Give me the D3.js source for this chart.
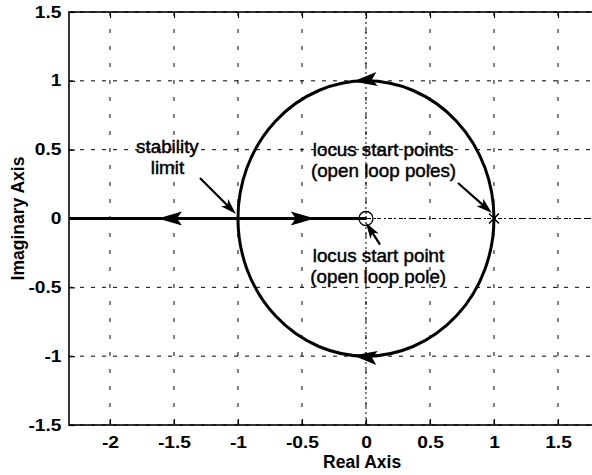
<!DOCTYPE html>
<html><head><meta charset="utf-8">
<script src="https://cdn.jsdelivr.net/npm/d3@7"></script>
<style>
html,body{margin:0;padding:0;background:#fff;overflow:hidden}
svg{display:block}
</style>
</head><body>
<script>
// ---- data ----
const xDomain = [-2.32, 1.88];
const yDomain = [-1.5, 1.5];
const xTicks = [-2, -1.5, -1, -0.5, 0, 0.5, 1, 1.5];
const xTickLabels = ["-2", "-1.5", "-1", "-0.5", "0", "0.5", "1", "1.5"];
const yTicks = [-1.5, -1, -0.5, 0, 0.5, 1, 1.5];
const yTickLabels = ["-1.5", "-1", "-0.5", "0", "0.5", "1", "1.5"];
const xLabel = "Real Axis";
const yLabel = "Imaginary Axis";

// real-axis branch of the locus
const realBranch = [[-2.32, 0], [0, 0]];
// circular branch: centre and radius
const circleCentre = [0, 0];
const circleRadius = 1;
// open loop poles
const polesO = [[0, 0]];
const polesX = [[1, 0]];
// direction arrows on the locus (point, branch)
const realArrows = [{p: [-1.625, 0], dir: -1}, {p: [-0.4, 0], dir: 1}];
const circleArrows = [{p: [-0.1, 0.995], branch: "upper"}, {p: [-0.1, -0.995], branch: "lower"}];
// annotations
const annotationTexts = [
  {text: "stability", p: [-1.551, 0.478]},
  {text: "limit", p: [-1.551, 0.321]},
  {text: "locus start points", p: [0.135, 0.456]},
  {text: "(open loop poles)", p: [0.137, 0.304]},
  {text: "locus start point", p: [0.098, -0.314]},
  {text: "(open loop pole)", p: [0.096, -0.468]}
];
const annotationArrows = [
  {from: [-1.297, 0.294], to: [-1.016, 0.033]},
  {from: [0.719, 0.258], to: [0.984, 0.040]},
  {from: [0.11, -0.19], to: [0.0, -0.03]}
];

// ---- drawing ----
const W = 592, H = 475;
const svg = d3.select("body").append("svg").attr("width", W).attr("height", H);
const x = d3.scaleLinear().domain(xDomain).range([69, 606.6]);
const y = d3.scaleLinear().domain(yDomain).range([425, 12]);
const font = "'Liberation Sans', Arial, Helvetica, sans-serif";

// grid
const grid = svg.append("g");
grid.selectAll("line.v").data(xTicks).enter().append("line")
  .attr("x1", d => x(d)).attr("x2", d => x(d))
  .attr("y1", y(yDomain[1])).attr("y2", y(yDomain[0]))
  .attr("stroke", "#000").attr("stroke-width", 1).attr("stroke-dasharray", "4,13");
grid.selectAll("line.h").data(yTicks).enter().append("line")
  .attr("y1", d => y(d)).attr("y2", d => y(d))
  .attr("x1", x(xDomain[0])).attr("x2", x(xDomain[1]))
  .attr("stroke", "#000").attr("stroke-width", 1).attr("stroke-dasharray", "4,7");
// dotted zero lines
grid.append("line").attr("x1", x(0)).attr("x2", x(0)).attr("y1", y(yDomain[1])).attr("y2", y(yDomain[0]))
  .attr("stroke", "#000").attr("stroke-width", 1).attr("stroke-dasharray", "2,3");
grid.append("line").attr("x1", x(xDomain[0])).attr("x2", x(xDomain[1])).attr("y1", y(0)).attr("y2", y(0))
  .attr("stroke", "#000").attr("stroke-width", 1).attr("stroke-dasharray", "2,3");

// axes
const sx = 1.2;
const xAxis = d3.axisBottom(x).tickValues(xTicks).tickFormat((d, i) => xTickLabels[i])
  .tickSizeInner(-6).tickSizeOuter(0).tickPadding(12);
const gx = svg.append("g").attr("transform", `translate(0,${y(yDomain[0])})`).call(xAxis);
const gxt = svg.append("g").attr("transform", `translate(0,${y(yDomain[1])})`)
  .call(d3.axisTop(x).tickValues(xTicks).tickFormat("").tickSizeInner(-6).tickSizeOuter(0));
const yAxis = d3.axisLeft(y).tickValues(yTicks).tickFormat((d, i) => yTickLabels[i])
  .tickSizeInner(-6).tickSizeOuter(0).tickPadding(7.5 / sx);
const gy = svg.append("g").attr("transform", `translate(${x(xDomain[0])},0)`).call(yAxis);
[gx, gxt, gy].forEach(g => {
  g.select(".domain").remove();
  g.selectAll(".tick line").attr("stroke", "#000").attr("stroke-width", 1.2);
  g.selectAll("text").attr("font-family", font).attr("font-weight", "bold")
    .attr("font-size", "16px").attr("fill", "#000").attr("transform", `scale(${sx},1)`);
});
// frame
svg.append("rect").attr("x", x(xDomain[0])).attr("y", y(yDomain[1]))
  .attr("width", x(xDomain[1]) - x(xDomain[0])).attr("height", y(yDomain[0]) - y(yDomain[1]))
  .attr("fill", "none").attr("stroke", "#000").attr("stroke-width", 1.6);

// axis labels
svg.append("text").attr("x", x(-0.03)).attr("y", 468).attr("text-anchor", "middle")
  .attr("font-family", font).attr("font-weight", "bold").attr("font-size", "17.5px").text(xLabel);
svg.append("text").attr("transform", `translate(24,${y(0)}) rotate(-90)`).attr("text-anchor", "middle")
  .attr("font-family", font).attr("font-weight", "bold").attr("font-size", "17.5px").text(yLabel);

// locus
const locus = svg.append("g");
locus.append("path").datum(realBranch)
  .attr("d", d3.line().x(d => x(d[0])).y(d => y(d[1])))
  .attr("fill", "none").attr("stroke", "#000").attr("stroke-width", 3);
locus.append("ellipse")
  .attr("cx", x(circleCentre[0])).attr("cy", y(circleCentre[1]))
  .attr("rx", x(circleCentre[0] + circleRadius) - x(circleCentre[0]))
  .attr("ry", y(circleCentre[1]) - y(circleCentre[1] + circleRadius))
  .attr("fill", "none").attr("stroke", "#000").attr("stroke-width", 3);

function arrowHead(tx, ty, ang, L, w, n) {
  const c = Math.cos(ang), s = Math.sin(ang);
  const bx = tx - L * c, by = ty - L * s;
  const nx = tx - (L - n) * c, ny = ty - (L - n) * s;
  return `M${tx},${ty}L${bx - w * s},${by + w * c}L${nx},${ny}L${bx + w * s},${by - w * c}Z`;
}
realArrows.forEach(a => {
  locus.append("path").attr("d", arrowHead(x(a.p[0]), y(a.p[1]), a.dir > 0 ? 0 : Math.PI, 24, 7, 5))
    .attr("fill", "#000");
});
circleArrows.forEach(a => {
  const dx = a.p[0] - circleCentre[0], dy = a.p[1] - circleCentre[1];
  const t = a.branch === "upper" ? [-dy, dx] : [dy, -dx];
  const pdx = t[0] * (x(1) - x(0)), pdy = t[1] * (y(1) - y(0));
  locus.append("path").attr("d", arrowHead(x(a.p[0]), y(a.p[1]), Math.atan2(pdy, pdx), 24, 7, 5))
    .attr("fill", "#000");
});
// poles
locus.selectAll("circle.o").data(polesO).enter().append("circle")
  .attr("cx", d => x(d[0])).attr("cy", d => y(d[1])).attr("r", 7)
  .attr("fill", "none").attr("stroke", "#000").attr("stroke-width", 1.3);
polesX.forEach(d => {
  const cx = x(d[0]), cy = y(d[1]), r = 5;
  locus.append("path").attr("d", `M${cx - r},${cy - r}L${cx + r},${cy + r}M${cx - r},${cy + r}L${cx + r},${cy - r}`)
    .attr("stroke", "#000").attr("stroke-width", 1.5);
});

// annotations
const ann = svg.append("g");
annotationTexts.forEach(a => {
  ann.append("text").attr("x", x(a.p[0])).attr("y", y(a.p[1])).attr("text-anchor", "middle")
    .attr("font-family", font).attr("font-size", "18.8px")
    .attr("fill", "#000").attr("stroke", "#000").attr("stroke-width", 0.45)
    .text(a.text);
});
annotationArrows.forEach(a => {
  const x1 = x(a.from[0]), y1 = y(a.from[1]), x2 = x(a.to[0]), y2 = y(a.to[1]);
  const ang = Math.atan2(y2 - y1, x2 - x1);
  ann.append("line").attr("x1", x1).attr("y1", y1)
    .attr("x2", x2 - 8 * Math.cos(ang)).attr("y2", y2 - 8 * Math.sin(ang))
    .attr("stroke", "#000").attr("stroke-width", 2.2);
  ann.append("path").attr("d", arrowHead(x2, y2, ang, 16, 5, 4)).attr("fill", "#000");
});
</script>
</body></html>
